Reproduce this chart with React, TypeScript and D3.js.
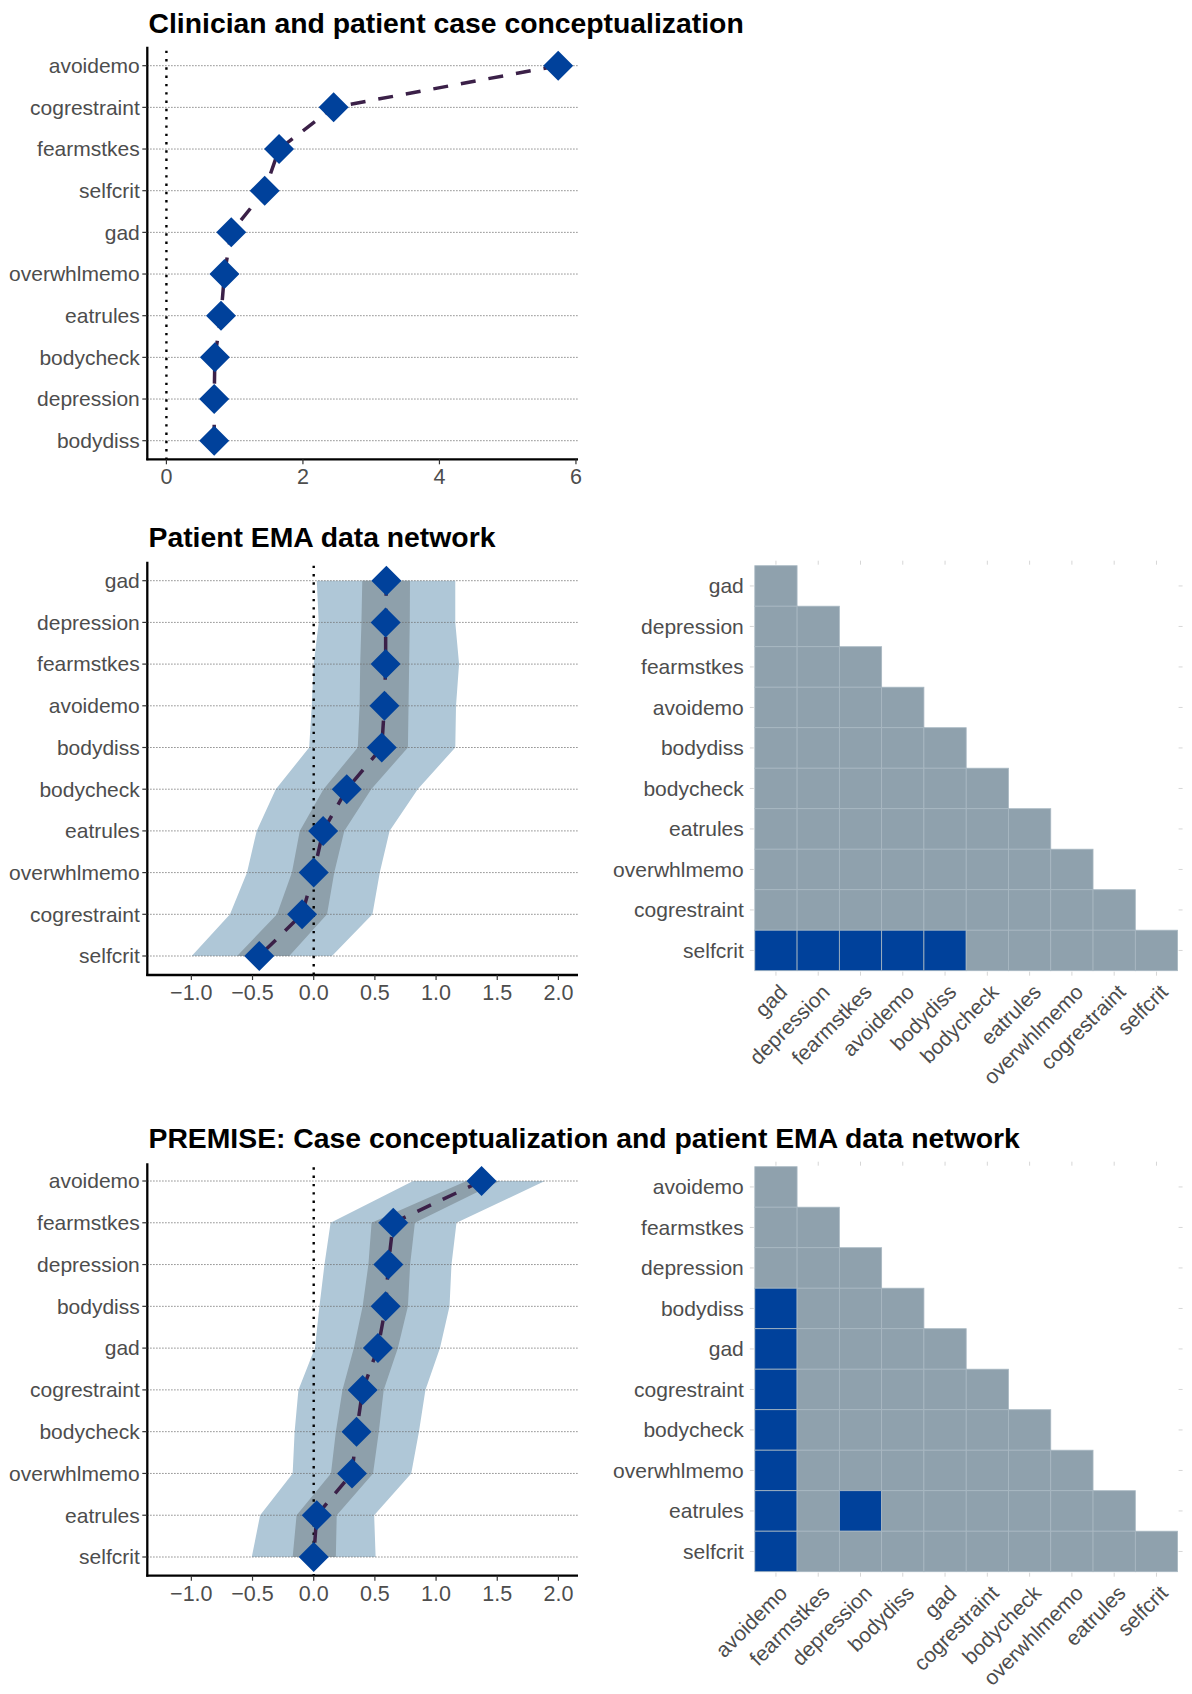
import React from "react";
import * as d3 from "d3";

// ---------- DATA ----------
const p1Categories = ["avoidemo", "cogrestraint", "fearmstkes", "selfcrit", "gad", "overwhlmemo", "eatrules", "bodycheck", "depression", "bodydiss"];
const p1Values = [5.74, 2.45, 1.65, 1.44, 0.95, 0.85, 0.8, 0.71, 0.7, 0.7];
const p1Ticks = [0, 2, 4, 6];

const p2Categories = ["gad", "depression", "fearmstkes", "avoidemo", "bodydiss", "bodycheck", "eatrules", "overwhlmemo", "cogrestraint", "selfcrit"];
const p2Estimate = [0.594, 0.588, 0.588, 0.578, 0.556, 0.27, 0.077, 0.0, -0.095, -0.445];
const p2InnerLow = [0.397, 0.39, 0.38, 0.375, 0.36, 0.08, -0.114, -0.178, -0.3, -0.626];
const p2InnerHigh = [0.787, 0.785, 0.78, 0.775, 0.77, 0.47, 0.25, 0.168, 0.109, -0.2];
const p2OuterLow = [0.025, 0.041, 0.0, -0.016, -0.037, -0.31, -0.466, -0.545, -0.684, -0.997];
const p2OuterHigh = [1.157, 1.157, 1.188, 1.163, 1.157, 0.85, 0.62, 0.54, 0.48, 0.149];

const p3Categories = ["avoidemo", "fearmstkes", "depression", "bodydiss", "gad", "cogrestraint", "bodycheck", "overwhlmemo", "eatrules", "selfcrit"];
const p3Estimate = [1.372, 0.65, 0.61, 0.588, 0.525, 0.4, 0.35, 0.313, 0.025, 0.0];
const p3InnerLow = [1.249, 0.473, 0.447, 0.4, 0.328, 0.235, 0.181, 0.141, -0.14, -0.172];
const p3InnerHigh = [1.521, 0.827, 0.788, 0.77, 0.688, 0.572, 0.532, 0.485, 0.188, 0.181];
const p3OuterLow = [0.813, 0.138, 0.088, 0.047, 0.01, -0.125, -0.156, -0.172, -0.438, -0.506];
const p3OuterHigh = [1.889, 1.167, 1.126, 1.11, 1.032, 0.913, 0.86, 0.797, 0.494, 0.506];

const emaTicks = [-1.0, -0.5, 0.0, 0.5, 1.0, 1.5, 2.0];

// highlighted (significant) cells: [row, column]
const heat1Highlight = [
  ["selfcrit", "gad"], ["selfcrit", "depression"], ["selfcrit", "fearmstkes"],
  ["selfcrit", "avoidemo"], ["selfcrit", "bodydiss"],
];
const heat2Highlight = [
  ["bodydiss", "avoidemo"], ["gad", "avoidemo"], ["cogrestraint", "avoidemo"],
  ["bodycheck", "avoidemo"], ["overwhlmemo", "avoidemo"], ["eatrules", "avoidemo"],
  ["selfcrit", "avoidemo"], ["eatrules", "depression"],
];

const titles = [
  "Clinician and patient case conceptualization",
  "Patient EMA data network",
  "PREMISE: Case conceptualization and patient EMA data network",
];

// ---------- STYLE ----------
const FONT = "'Liberation Sans', Arial, Helvetica, sans-serif";
const LABEL = "#4d4d4d";
const DIAMOND = "#00419b";
const LINE = "#3b2048";
const OUTER = "#afc7d7";
const INNER = "#8ea0ab";
const CELL = "#8fa1ad";
const CELL_HI = "#00419b";

const diamondPath = d3.symbol(d3.symbolSquare, 450)() as string;

function fmtTick(v: number) {
  const s = Math.abs(v).toFixed(1);
  return v < 0 ? "\u2212" + s : s;
}

type ForestProps = {
  title: string;
  titleY: number;
  cats: string[];
  est: number[];
  innerLo?: number[];
  innerHi?: number[];
  outerLo?: number[];
  outerHi?: number[];
  xDomain: [number, number];
  ticks: number[];
  tickFmt: (v: number) => string;
  rowTop: number;
  rowBottom: number;
  axisTop: number;
  axisBottom: number;
};

const AX_LEFT = 147.3;
const AX_RIGHT = 578;

function Forest(p: ForestProps) {
  const x = d3.scaleLinear().domain(p.xDomain).range([AX_LEFT, AX_RIGHT]);
  const y = d3.scalePoint<string>().domain(p.cats).range([p.rowTop, p.rowBottom]);
  const idx = p.cats.map((_, i) => i);
  const area = (lo: number[], hi: number[]) =>
    d3.area<number>()
      .y((i) => y(p.cats[i]) as number)
      .x0((i) => x(lo[i]))
      .x1((i) => x(hi[i]))(idx) as string;
  const line = d3.line<number>()
    .x((i) => x(p.est[i]))
    .y((i) => y(p.cats[i]) as number)(idx) as string;
  return (
    <g>
      <text
        transform={`translate(148.5,${p.titleY}) scale(1.05,1)`}
        fontFamily={FONT}
        fontWeight="bold"
        fontSize={27}
        fill="#000"
      >
        {p.title}
      </text>
      {p.outerLo && p.outerHi && <path d={area(p.outerLo, p.outerHi)} fill={OUTER} />}
      {p.innerLo && p.innerHi && <path d={area(p.innerLo, p.innerHi)} fill={INNER} />}
      {p.cats.map((c) => (
        <line
          key={"g" + c}
          x1={AX_LEFT}
          x2={AX_RIGHT}
          y1={y(c)}
          y2={y(c)}
          stroke="#6e6e6e"
          strokeWidth={1}
          strokeDasharray="1.2 1.8"
        />
      ))}
      <line
        x1={x(0)}
        x2={x(0)}
        y1={p.axisTop + 4}
        y2={p.axisBottom}
        stroke="#000"
        strokeWidth={2.4}
        strokeDasharray="2.4 5.9"
      />
      <path d={line} fill="none" stroke={LINE} strokeWidth={3.5} strokeDasharray="15 13" />
      {p.cats.map((c, i) => (
        <path
          key={"d" + c}
          d={diamondPath}
          transform={`translate(${x(p.est[i])},${y(c)}) rotate(45)`}
          fill={DIAMOND}
        />
      ))}
      {/* axes */}
      <line x1={AX_LEFT} x2={AX_LEFT} y1={p.axisTop} y2={p.axisBottom + 1} stroke="#000" strokeWidth={2.3} />
      <line x1={AX_LEFT - 1} x2={AX_RIGHT} y1={p.axisBottom} y2={p.axisBottom} stroke="#000" strokeWidth={2.3} />
      {p.cats.map((c) => (
        <g key={"yt" + c}>
          <line x1={AX_LEFT - 5} x2={AX_LEFT} y1={y(c)} y2={y(c)} stroke="#333" strokeWidth={1.2} />
          <text
            x={AX_LEFT - 7.5}
            y={y(c)}
            dy="0.35em"
            textAnchor="end"
            fontFamily={FONT}
            fontSize={21}
            fill={LABEL}
          >
            {c}
          </text>
        </g>
      ))}
      {p.ticks.map((t) => (
        <g key={"xt" + t}>
          <line x1={x(t)} x2={x(t)} y1={p.axisBottom} y2={p.axisBottom + 5} stroke="#333" strokeWidth={1.2} />
          <text
            x={x(t)}
            y={p.axisBottom + 25}
            textAnchor="middle"
            fontFamily={FONT}
            fontSize={21.5}
            fill={LABEL}
          >
            {p.tickFmt(t)}
          </text>
        </g>
      ))}
    </g>
  );
}

type HeatProps = {
  cats: string[];
  highlight: string[][];
  top: number;
  bottom: number;
};

const HM_LEFT = 754.8;
const HM_RIGHT = 1177.6;

function Heat(p: HeatProps) {
  const x = d3.scaleBand<string>().domain(p.cats).range([HM_LEFT, HM_RIGHT]);
  const y = d3.scaleBand<string>().domain(p.cats).range([p.top, p.bottom]);
  const hi = new Set(p.highlight.map((h) => h[0] + "|" + h[1]));
  const cells: { r: string; c: string }[] = [];
  p.cats.forEach((r, ri) => {
    p.cats.forEach((c, ci) => {
      if (ci <= ri) cells.push({ r, c });
    });
  });
  const bw = x.bandwidth();
  const bh = y.bandwidth();
  return (
    <g>
      {/* faint ticks */}
      {p.cats.map((c) => (
        <g key={"tk" + c}>
          <line x1={(x(c) as number) + bw / 2} x2={(x(c) as number) + bw / 2} y1={p.top - 5} y2={p.top - 1} stroke="#d6d6d6" strokeWidth={1} />
          <line x1={(x(c) as number) + bw / 2} x2={(x(c) as number) + bw / 2} y1={p.bottom + 1} y2={p.bottom + 5} stroke="#d6d6d6" strokeWidth={1} />
          <line x1={HM_LEFT - 5} x2={HM_LEFT - 1} y1={(y(c) as number) + bh / 2} y2={(y(c) as number) + bh / 2} stroke="#d6d6d6" strokeWidth={1} />
          <line x1={HM_RIGHT + 1} x2={HM_RIGHT + 5} y1={(y(c) as number) + bh / 2} y2={(y(c) as number) + bh / 2} stroke="#d6d6d6" strokeWidth={1} />
        </g>
      ))}
      {cells.map((d) => (
        <rect
          key={d.r + "|" + d.c}
          x={x(d.c)}
          y={y(d.r)}
          width={bw}
          height={bh}
          fill={hi.has(d.r + "|" + d.c) ? CELL_HI : CELL}
          stroke="#a9b8c2"
          strokeWidth={0.8}
        />
      ))}
      {p.cats.map((c) => (
        <text
          key={"yl" + c}
          x={HM_LEFT - 11}
          y={(y(c) as number) + bh / 2}
          dy="0.35em"
          textAnchor="end"
          fontFamily={FONT}
          fontSize={21}
          fill={LABEL}
        >
          {c}
        </text>
      ))}
      {p.cats.map((c) => (
        <text
          key={"xl" + c}
          transform={`translate(${(x(c) as number) + bw / 2 + 2},${p.bottom + 12}) rotate(-45)`}
          dy="0.72em"
          textAnchor="end"
          fontFamily={FONT}
          fontSize={21}
          fill={LABEL}
        >
          {c}
        </text>
      ))}
    </g>
  );
}

export default function App() {
  return (
    <div>
      <style>{`body{margin:0;background:#fff}`}</style>
      <svg width={1192} height={1694} viewBox="0 0 1192 1694" style={{ display: "block" }}>
        <rect width={1192} height={1694} fill="#fff" />
        <Forest
          title={titles[0]}
          titleY={33}
          cats={p1Categories}
          est={p1Values}
          xDomain={[-0.28, 6.03]}
          ticks={p1Ticks}
          tickFmt={(v) => String(v)}
          rowTop={65.7}
          rowBottom={440.7}
          axisTop={46.7}
          axisBottom={459.3}
        />
        <Forest
          title={titles[1]}
          titleY={547}
          cats={p2Categories}
          est={p2Estimate}
          innerLo={p2InnerLow}
          innerHi={p2InnerHigh}
          outerLo={p2OuterLow}
          outerHi={p2OuterHigh}
          xDomain={[-1.36, 2.16]}
          ticks={emaTicks}
          tickFmt={fmtTick}
          rowTop={580.7}
          rowBottom={956}
          axisTop={561.7}
          axisBottom={975}
        />
        <Heat cats={p2Categories} highlight={heat1Highlight} top={565.7} bottom={970.7} />
        <Forest
          title={titles[2]}
          titleY={1148}
          cats={p3Categories}
          est={p3Estimate}
          innerLo={p3InnerLow}
          innerHi={p3InnerHigh}
          outerLo={p3OuterLow}
          outerHi={p3OuterHigh}
          xDomain={[-1.36, 2.16]}
          ticks={emaTicks}
          tickFmt={fmtTick}
          rowTop={1181}
          rowBottom={1557}
          axisTop={1163.3}
          axisBottom={1575.7}
        />
        <Heat cats={p3Categories} highlight={heat2Highlight} top={1166.7} bottom={1571.7} />
      </svg>
    </div>
  );
}
